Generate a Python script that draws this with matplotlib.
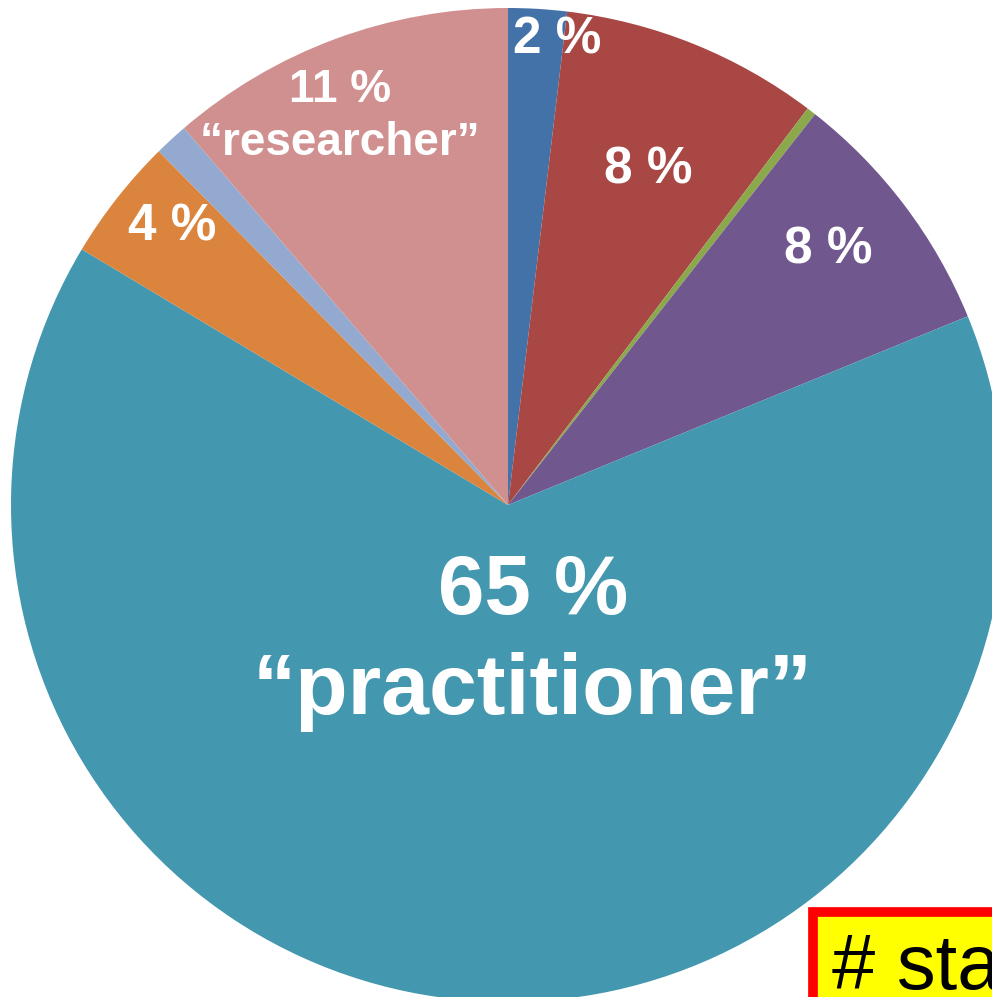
import matplotlib.pyplot as plt

# slice shares (%), clockwise from 12 o'clock
shares = [1.9, 8.4, 0.3, 8.2, 64.8, 4.0, 1.1, 11.3]
colors = ["#4372A8", "#A84744", "#8BA84A", "#70578E", "#4397AF", "#DB843D", "#93A9CF", "#D09090"]

# labels drawn inside the slices
label_texts = ["2 %", "8 %", "8 %", "4 %", "11 %", "\u201cresearcher\u201d", "65 %", "\u201cpractitioner\u201d"]
label_pos = [(557, 40), (648, 170), (828, 250), (172, 227), (340, 90), (340, 143), (533, 592), (533, 692)]
label_size = [37, 37, 37, 37, 33, 33, 60, 62]

W, H = 992, 997
fig = plt.figure(figsize=(W / 100, H / 100), dpi=100)
ax = fig.add_axes([0, 0, 1, 1])

ax.pie(shares, colors=colors, startangle=90, counterclock=False,
       center=(508, H - 505), radius=497, frame=True,
       wedgeprops=dict(linewidth=0))
ax.set_xlim(0, W)
ax.set_ylim(0, H)
ax.axis("off")

for t, (x, y), s in zip(label_texts, label_pos, label_size):
    ax.text(x, H - y, t, color="white", fontsize=s, fontweight="bold",
            family="Liberation Sans", ha="center", va="center")

# box cut by the right/bottom edge
ax.text(832, H - 968, "# stats here", fontsize=56, family="Liberation Sans",
        ha="left", va="center", color="black",
        bbox=dict(facecolor="yellow", edgecolor="red", linewidth=7, pad=14))

fig.savefig("out.png", dpi=100)
